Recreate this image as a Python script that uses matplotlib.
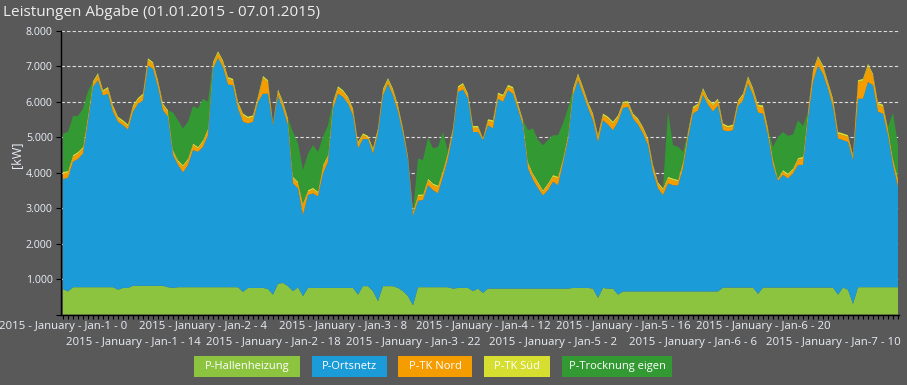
import matplotlib

matplotlib.use("Agg")
import matplotlib.pyplot as plt
import matplotlib.transforms as mtransforms
from matplotlib.patches import Rectangle

plt.rcParams["font.family"] = ["Open Sans", "DejaVu Sans"]

BG = "#595959"
TXT = "#e9eef5"
W, H = 907, 385

TITLE = "Leistungen Abgabe (01.01.2015 - 07.01.2015)"

series_names = ["P-Hallenheizung", "P-Ortsnetz", "P-TK Nord", "P-TK Süd", "P-Trocknung eigen"]
series_colors = ["#8dc43f", "#1c9bd9", "#f59c00", "#d6de2f", "#339a33"]

hours = list(range(168))

# kW, hourly, 01.01.2015 00:00 .. 07.01.2015 23:00
hallen = [
    720, 650, 770, 770, 770, 770, 770, 770, 770, 770, 770, 700, 750, 750, 810, 810, 810, 810, 810, 810, 810, 770, 750, 770,
    770, 770, 770, 770, 770, 770, 770, 770, 770, 770, 770, 770, 640, 750, 750, 750, 750, 720, 560, 870, 890, 800, 660, 770,
    520, 750, 750, 750, 750, 750, 750, 750, 750, 750, 750, 560, 800, 800, 660, 380, 800, 800, 800, 750, 660, 520, 260, 770,
    770, 770, 770, 770, 770, 770, 730, 750, 750, 750, 660, 730, 610, 730, 730, 730, 730, 730, 730, 730, 730, 730, 730, 730,
    730, 730, 730, 730, 730, 730, 750, 750, 750, 750, 730, 470, 750, 730, 730, 560, 650, 650, 650, 650, 650, 650, 650, 650,
    650, 650, 650, 650, 650, 650, 650, 650, 650, 650, 650, 650, 760, 760, 760, 760, 760, 760, 760, 580, 760, 760, 760, 760,
    760, 760, 760, 760, 760, 760, 760, 760, 760, 760, 760, 560, 760, 700, 300, 770, 770, 770, 770, 770, 770, 770, 770, 770,
]
ortsnetz = [
    3100, 3210, 3540, 3620, 3770, 4680, 5650, 5840, 5410, 5460, 4950, 4740, 4590, 4470, 4910, 5140, 5230, 6220, 6120, 5610, 4950, 4810, 3750, 3450,
    3240, 3450, 3870, 3820, 3960, 4290, 6160, 6470, 6210, 5720, 5700, 5040, 4800, 4640, 4690, 5250, 5480, 5510, 4780, 5310, 4920, 4540, 3040, 2790,
    2290, 2620, 2670, 2580, 3230, 3560, 5060, 5480, 5390, 5200, 4870, 4130, 4150, 4150, 3880, 4730, 5380, 5710, 5380, 4970, 4450, 3840, 2520, 2440,
    2460, 2880, 2740, 2650, 3120, 3630, 4380, 5530, 5600, 5340, 4490, 4420, 4310, 4610, 4520, 5360, 5270, 5600, 5500, 5060, 4610, 3390, 3070, 2830,
    2630, 2780, 3020, 2920, 3530, 4190, 5430, 5860, 5480, 5080, 4750, 4400, 4730, 4630, 4470, 4880, 5180, 5210, 4880, 4710, 4460, 4130, 3380, 2910,
    2720, 3050, 3000, 2990, 3470, 4320, 5020, 5110, 5550, 5270, 5080, 5250, 4440, 4410, 4440, 5120, 5280, 5770, 5440, 5120, 4910, 4300, 3460, 3010,
    3180, 3080, 3220, 3460, 3460, 4770, 5800, 6270, 6030, 5610, 5100, 4410, 4160, 4170, 4060, 5320, 5320, 5790, 5700, 4950, 4900, 4290, 3450, 2840,
]
tk_nord = [
    160, 140, 140, 150, 140, 120, 110, 150, 100, 140, 130, 90, 90, 90, 130, 110, 140, 150, 140, 140, 140, 130, 90, 90,
    160, 130, 140, 90, 140, 140, 140, 140, 140, 160, 130, 140, 180, 140, 130, 100, 450, 330, 25, 120, 140, 140, 140, 140,
    280, 90, 110, 90, 190, 140, 140, 160, 140, 140, 140, 130, 110, 45, 100, 90, 140, 110, 140, 130, 90, 45, 70, 130,
    110, 140, 140, 170, 140, 140, 90, 110, 130, 90, 120, 120, 25, 120, 180, 120, 150, 100, 140, 110, 90, 140, 130, 140,
    100, 140, 140, 190, 90, 90, 140, 140, 140, 120, 140, 140, 140, 170, 190, 130, 120, 110, 90, 120, 130, 140, 140, 120,
    140, 140, 140, 110, 140, 130, 140, 140, 140, 120, 170, 140, 140, 100, 110, 110, 140, 140, 140, 170, 180, 140, 130, 35,
    90, 90, 90, 150, 180, 140, 280, 210, 190, 140, 180, 130, 140, 140, 90, 470, 510, 460, 270, 200, 200, 140, 130, 180,
]
tk_sued = [
    50, 50, 50, 50, 50, 50, 50, 50, 50, 50, 50, 50, 50, 50, 50, 50, 50, 50, 50, 50, 50, 50, 50, 50,
    50, 50, 50, 50, 50, 50, 50, 50, 50, 50, 50, 50, 50, 50, 50, 50, 50, 50, 25, 50, 50, 50, 50, 50,
    50, 50, 50, 50, 50, 50, 50, 50, 50, 50, 50, 50, 50, 45, 50, 50, 50, 50, 50, 50, 50, 45, 50, 50,
    50, 50, 50, 50, 50, 50, 50, 50, 50, 50, 50, 50, 25, 50, 50, 50, 50, 50, 50, 50, 50, 50, 50, 50,
    50, 50, 50, 50, 50, 50, 50, 50, 50, 50, 50, 50, 50, 50, 50, 50, 50, 50, 50, 50, 50, 50, 50, 50,
    50, 50, 50, 50, 50, 50, 50, 50, 50, 50, 50, 50, 50, 50, 50, 50, 50, 50, 50, 50, 50, 50, 50, 35,
    50, 50, 50, 50, 50, 50, 50, 50, 50, 50, 50, 50, 50, 50, 50, 50, 50, 50, 50, 50, 50, 50, 50, 50,
]
trocknung = [
    1080, 1100, 1100, 1010, 1080, 680, 0, 0, 0, 0, 0, 0, 0, 0, 0, 0, 0, 0, 0, 0, 0, 0, 1060, 1120,
    1030, 1040, 1050, 1080, 1170, 750, 0, 0, 0, 0, 0, 0, 0, 0, 0, 0, 0, 0, 0, 0, 0, 0, 1260, 1080,
    940, 1030, 1200, 1120, 790, 840, 0, 0, 0, 0, 0, 0, 0, 0, 0, 0, 0, 0, 0, 0, 0, 0, 0, 1010,
    970, 1150, 990, 1090, 1070, 0, 0, 0, 0, 0, 0, 0, 0, 0, 0, 0, 0, 0, 0, 0, 0, 890, 1270, 1170,
    1270, 1220, 1120, 1170, 990, 750, 0, 0, 0, 0, 0, 0, 0, 0, 0, 0, 0, 0, 0, 0, 0, 0, 0, 0,
    0, 1830, 940, 930, 280, 0, 0, 0, 0, 0, 0, 0, 0, 0, 0, 0, 0, 0, 0, 0, 0, 0, 330, 1170,
    1070, 1060, 960, 1060, 870, 0, 0, 0, 0, 0, 0, 0, 0, 0, 0, 0, 0, 0, 0, 0, 0, 40, 1290, 940,
]

label_hours = [0, 14, 28, 42, 56, 70, 84, 98, 112, 126, 140, 154]
label_texts = [
    "2015 - January - Jan-1 - 0",
    "2015 - January - Jan-1 - 14",
    "2015 - January - Jan-2 - 4",
    "2015 - January - Jan-2 - 18",
    "2015 - January - Jan-3 - 8",
    "2015 - January - Jan-3 - 22",
    "2015 - January - Jan-4 - 12",
    "2015 - January - Jan-5 - 2",
    "2015 - January - Jan-5 - 16",
    "2015 - January - Jan-6 - 6",
    "2015 - January - Jan-6 - 20",
    "2015 - January - Jan-7 - 10",
]
y_ticks = [0, 1000, 2000, 3000, 4000, 5000, 6000, 7000, 8000]
y_labels = ["", "1.000", "2.000", "3.000", "4.000", "5.000", "6.000", "7.000", "8.000"]


def main() -> None:
    fig = plt.figure(figsize=(W / 100, H / 100), dpi=100, facecolor=BG)
    ax = fig.add_axes([61 / W, 1 - 314.5 / H, 838 / W, 283.5 / H])
    ax.set_facecolor(BG)

    ax.stackplot(
        hours, hallen, ortsnetz, tk_nord, tk_sued, trocknung,
        colors=series_colors, linewidth=0, zorder=2,
    )
    ax.set_xlim(-0.4, 167.2)
    ax.set_ylim(0, 8000)

    ax.set_axisbelow(True)
    ax.yaxis.grid(True, color="#dedede", linestyle=(0, (3, 2)), linewidth=0.8)
    for side in ("top", "right"):
        ax.spines[side].set_visible(False)
    for side in ("left", "bottom"):
        ax.spines[side].set_color("black")
        ax.spines[side].set_linewidth(1.0)
        ax.spines[side].set_zorder(3)

    ax.set_xticks(hours)
    ax.tick_params(axis="x", length=3, width=0.8, color="black", labelbottom=False)
    ax.set_yticks(y_ticks)
    ax.set_yticklabels(y_labels)
    ax.tick_params(axis="y", length=3.5, width=0.8, color="black", labelcolor=TXT, labelsize=7.7, pad=2.5)

    fig.text(17 / W, 1 - 155 / H, "[kW]", rotation=90, ha="center", va="center",
             fontsize=9, color=TXT)

    trans = mtransforms.blended_transform_factory(ax.transData, fig.transFigure)
    for i, (hx, txt) in enumerate(zip(label_hours, label_texts)):
        y = 326.5 if i % 2 == 0 else 343
        ax.text(hx, 1 - y / H, txt, transform=trans, ha="center", va="center",
                fontsize=8.2, color=TXT, clip_on=False)

    fig.text(3 / W, 1 - 12 / H, TITLE, ha="left", va="center", fontsize=11, color="#eeeeee")

    # legend boxes (pixel extents)
    boxes = [(194, 300), (312, 387), (398, 472), (484, 550), (562, 672)]
    for (x0, x1), name, col in zip(boxes, series_names, series_colors):
        fig.patches.append(
            Rectangle((x0 / W, 1 - 377 / H), (x1 - x0) / W, 21 / H,
                      transform=fig.transFigure, facecolor=col, edgecolor="none")
        )
        fig.text((x0 + x1) / 2 / W, 1 - 366.5 / H, name, ha="center", va="center",
                 fontsize=8, color="white")

    fig.savefig("out.png", dpi=100, facecolor=BG)
    plt.close(fig)


if __name__ == "__main__":
    main()
